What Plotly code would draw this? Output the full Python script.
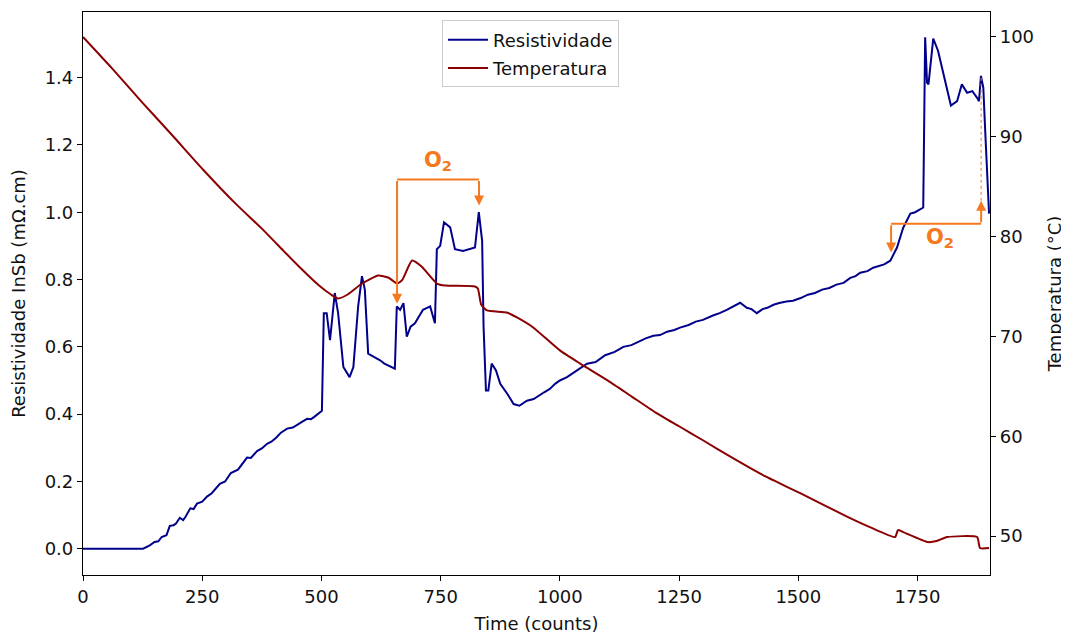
import plotly.graph_objects as go

# ---- data ----
res_time = [0, 126, 140, 150, 158, 165, 175, 182, 190, 195, 203, 210, 215, 225, 232, 239, 250, 260,
            270, 287, 298, 310, 325, 344, 352, 365, 375, 386, 395, 405, 415, 428, 440, 450, 460, 470,
            478, 485, 495, 501, 505, 511, 518, 528, 535, 546, 559, 567, 577, 585, 591, 598,
            610, 623, 632, 640, 654, 658, 665, 672, 679, 687, 696, 713, 728, 738, 742, 749, 757, 770, 780,
            797, 810, 822, 830, 837, 840, 845, 850, 857, 866, 875, 890, 903, 915, 931, 945, 955, 967, 979,
            990, 1000, 1015, 1036, 1057, 1075, 1095, 1115, 1133, 1150, 1165, 1180, 1196, 1210, 1225, 1240,
            1252, 1270, 1285, 1300, 1321, 1335, 1350, 1365, 1378, 1392, 1402, 1413, 1425, 1435, 1448, 1460,
            1475, 1489, 1505, 1520, 1535, 1550, 1565, 1580, 1595, 1609, 1620, 1630, 1645, 1657, 1668, 1680,
            1693, 1707, 1720, 1735, 1745, 1755, 1762, 1766,
            1770, 1773, 1783, 1793, 1812, 1820, 1833, 1843, 1854, 1865, 1875, 1879, 1883, 1888, 1892, 1896, 1900]
res_vals = [0.0, 0.0, 0.01, 0.02, 0.022, 0.035, 0.04, 0.068, 0.07, 0.075, 0.092, 0.085, 0.095, 0.12,
            0.118, 0.134, 0.14, 0.155, 0.165, 0.193, 0.2, 0.225, 0.235, 0.271, 0.27, 0.29, 0.298, 0.312,
            0.318, 0.33, 0.345, 0.357, 0.36, 0.37, 0.378, 0.386, 0.385, 0.392, 0.404, 0.41, 0.70, 0.70,
            0.62, 0.76, 0.70, 0.54, 0.51, 0.54, 0.72, 0.81, 0.77, 0.58, 0.57, 0.56, 0.55, 0.545, 0.535,
            0.72, 0.71, 0.73, 0.63, 0.66, 0.67, 0.71, 0.72, 0.67, 0.89, 0.90, 0.97, 0.955, 0.89, 0.885,
            0.89, 0.895, 1.0, 0.915, 0.66, 0.47, 0.47, 0.55, 0.53, 0.49, 0.46, 0.43, 0.425, 0.44, 0.445,
            0.455, 0.465, 0.475, 0.49, 0.50, 0.51, 0.53, 0.55, 0.555, 0.575, 0.585, 0.60, 0.605, 0.615,
            0.625, 0.633, 0.635, 0.645, 0.65, 0.657, 0.665, 0.675, 0.68, 0.693, 0.70, 0.71, 0.72, 0.731,
            0.716, 0.712, 0.70, 0.712, 0.716, 0.725, 0.73, 0.735, 0.737, 0.745, 0.755, 0.76, 0.77, 0.775,
            0.785, 0.79, 0.805, 0.81, 0.82, 0.825, 0.835, 0.84, 0.845, 0.856, 0.895, 0.954, 0.996, 1.0,
            1.008, 1.014, 1.52, 1.385, 1.38, 1.516, 1.48, 1.37, 1.317, 1.33, 1.38, 1.355, 1.36, 1.34,
            1.33, 1.405, 1.37, 1.24, 1.115, 0.996]

temp_time = [0, 60, 125, 190, 252, 320, 375, 420, 455, 495, 520, 535, 555, 585, 619, 640, 659, 670,
             690, 710, 742, 760, 822, 828, 835, 847, 889, 910, 944, 1000, 1042, 1100, 1150, 1200, 1250,
             1300, 1363, 1430, 1504, 1600, 1650, 1703, 1709, 1720, 1772, 1790, 1812, 1875, 1881, 1900]
temp_vals = [100.0, 96.9, 93.4, 90.0, 86.7, 83.3, 80.8, 78.6, 76.9, 75.1, 74.2, 73.8, 74.2, 75.3, 76.1,
             75.9, 75.3, 75.7, 77.6, 77.0, 75.3, 75.1, 75.0, 74.8, 73.2, 72.6, 72.4, 71.9, 70.9, 68.6,
             67.3, 65.6, 64.0, 62.4, 61.0, 59.6, 57.8, 56.0, 54.3, 52.0, 50.9, 49.9, 50.6, 50.4, 49.4,
             49.5, 49.9, 49.9, 48.8, 48.8]

x_ticks = [0, 250, 500, 750, 1000, 1250, 1500, 1750]
y_ticks = [0.0, 0.2, 0.4, 0.6, 0.8, 1.0, 1.2, 1.4]
y2_ticks = [50, 60, 70, 80, 90, 100]

# annotation (O2 brackets) positions
b1_left, b1_right, b1_top, b1_tip_left, b1_tip_right = 658.6, 830.5, 1.097, 0.728, 1.02
b1_label = (744.5, 1.153)
b2_left, b2_right, b2_y, b2_tip_left, b2_tip_right, b2_dot_top = 1694.6, 1883.4, 0.966, 0.88, 1.034, 1.40
b2_label = (1797, 0.924)

ORANGE = "#f47920"
FONT = "DejaVu Sans"
FS = 18

fig = go.Figure()
fig.add_trace(go.Scatter(x=res_time, y=res_vals, mode="lines", name="Resistividade", legendgroup="r",
                         line=dict(color="#00008b", width=2), yaxis="y"))
fig.add_trace(go.Scatter(x=temp_time, y=temp_vals, mode="lines", name="Temperatura", legendgroup="t",
                         line=dict(color="#8b0000", width=2, shape="spline", smoothing=0.5), yaxis="y2"))

# bracket lines
shapes = [
    dict(type="line", xref="x", yref="y", x0=b1_left, x1=b1_right, y0=b1_top, y1=b1_top,
         line=dict(color=ORANGE, width=2)),
    dict(type="line", xref="x", yref="y", x0=b2_left, x1=b2_right, y0=b2_y, y1=b2_y,
         line=dict(color=ORANGE, width=2)),
    dict(type="line", xref="x", yref="y", x0=b2_right, x1=b2_right, y0=b2_tip_right, y1=b2_dot_top,
         line=dict(color=ORANGE, width=1, dash="dot")),
]

arrow_common = dict(xref="x", yref="y", axref="x", ayref="y", showarrow=True, text="",
                    arrowhead=2, arrowsize=1.0, arrowwidth=2, arrowcolor=ORANGE, standoff=0)
annotations = [
    dict(x=b1_left, y=b1_tip_left, ax=b1_left, ay=b1_top, **arrow_common),
    dict(x=b1_right, y=b1_tip_right, ax=b1_right, ay=b1_top, **arrow_common),
    dict(x=b2_left, y=b2_tip_left, ax=b2_left, ay=b2_y, **arrow_common),
    dict(x=b2_right, y=b2_tip_right, ax=b2_right, ay=b2_y, **arrow_common),
    dict(x=b1_label[0], y=b1_label[1], xref="x", yref="y", text="<b>O<sub>2</sub></b>",
         showarrow=False, font=dict(family=FONT, size=21, color=ORANGE)),
    dict(x=b2_label[0], y=b2_label[1], xref="x", yref="y", text="<b>O<sub>2</sub></b>",
         showarrow=False, font=dict(family=FONT, size=21, color=ORANGE)),
]

axis_common = dict(showgrid=False, zeroline=False, showline=True, linecolor="black", linewidth=1.2,
                   ticks="outside", ticklen=5, tickwidth=1.2, tickcolor="black", automargin=False,
                   tickfont=dict(family=FONT, size=FS, color="#111"))

# the page body adds an 8px offset, so the figure is 8px smaller and margins shifted
fig.update_layout(
    width=1061, height=626,
    margin=dict(l=75, r=79, t=4, b=59),
    plot_bgcolor="white", paper_bgcolor="white",
    font=dict(family=FONT, size=FS, color="#111"),
    xaxis=dict(range=[0, 1902], tickvals=x_ticks, mirror=True,
               title=dict(text="Time (counts)", standoff=14, font=dict(family=FONT, size=FS)),
               **axis_common),
    yaxis=dict(range=[-0.078, 1.595], tickvals=y_ticks, tickformat=".1f", mirror=True,
               title=dict(text="Resistividade InSb (mΩ.cm)", standoff=15, font=dict(family=FONT, size=FS)),
               **axis_common),
    yaxis2=dict(range=[46.1, 102.5], tickvals=y2_ticks, overlaying="y", side="right",
                title=dict(text="Temperatura (°C)", standoff=15, font=dict(family=FONT, size=FS)),
                **axis_common),
    legend=dict(x=0.4934, y=0.985, xanchor="center", yanchor="top", bgcolor="rgba(255,255,255,0.8)",
                bordercolor="#cccccc", borderwidth=1, font=dict(family=FONT, size=FS),
                itemwidth=40, traceorder="grouped", tracegroupgap=2),
    shapes=shapes, annotations=annotations,
    showlegend=True,
)

fig.write_html("out.html")
